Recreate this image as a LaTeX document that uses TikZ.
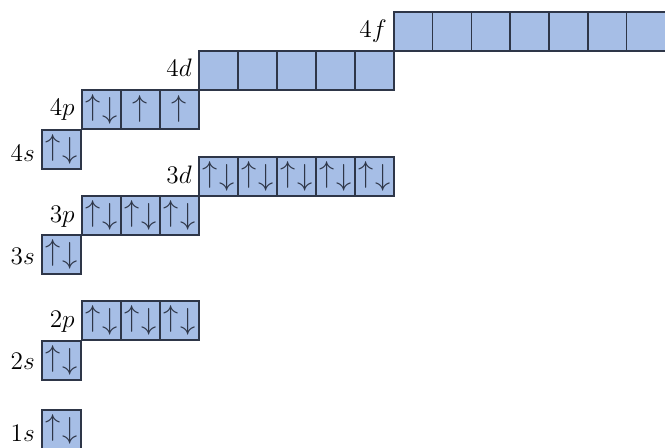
\documentclass[tikz,border=0pt]{standalone}
\usepackage{amsmath,amssymb}
\usepackage{xcolor}
\definecolor{orbfill}{HTML}{A6BEE6}
\definecolor{orbline}{HTML}{2E3648}
\usepackage{tikz}
\usetikzlibrary{positioning,calc}
\tikzset{
  orb/.style  ={draw=orbline,fill=orbfill,line width=0.9pt,inner sep=0pt,
                minimum width=0.78cm,minimum height=0.78cm,anchor=north west,
                font=\fontsize{18}{18}\selectfont,text=orbline},
  lbl/.style  ={font=\fontsize{15}{17}\selectfont,inner sep=0pt,anchor=base east},
}
\newcommand{\pair}{$\raisebox{1pt}{$\uparrow$}\mkern1mu\raisebox{-1pt}{$\downarrow$}$}
\newcommand{\up}{$\uparrow$}

\begin{document}
\begin{tikzpicture}[x=0.02cm,y=-0.02cm]
\useasboundingbox (0,0) rectangle (665,447);
% n = 1
\node[orb] (s1) at (41,409) {\pair};
% n = 2
\node[orb] (s2) at (41,340) {\pair};
\foreach \i in {1,2,3}
  \node[orb] (p2-\i) at ({81+39*(\i-1)},300) {\pair};
% n = 3
\node[orb] (s3) at (41,234) {\pair};
\foreach \i in {1,2,3}
  \node[orb] (p3-\i) at ({81+39*(\i-1)},195) {\pair};
\foreach \i in {1,...,5}
  \node[orb] (d3-\i) at ({198+39*(\i-1)},156) {\pair};
% n = 4
\node[orb] (s4) at (41,129) {\pair};
\node[orb] (p4-1) at (81,89) {\pair};
\node[orb] (p4-2) at (120,89) {\up};
\node[orb] (p4-3) at (159,89) {\up};
\foreach \i in {1,...,5}
  \node[orb] (d4-\i) at ({198+39*(\i-1)},50) {};
\foreach \i in {1,...,7}
  \node[orb] (f4-\i) at ({393+38.8*(\i-1)},11) {};
% labels
\node[lbl] (l1s) at ([xshift=-3.4pt,yshift=4.5pt]s1.south west) {$1s$};
\node[lbl] (l2s) at ([xshift=-3.4pt,yshift=6.5pt]s2.south west) {$2s$};
\node[lbl] (l2p) at ([xshift=-3.4pt,yshift=7.5pt]p2-1.south west) {$2p$};
\node[lbl] (l3s) at ([xshift=-3.4pt,yshift=5.5pt]s3.south west) {$3s$};
\node[lbl] (l3p) at ([xshift=-3.4pt,yshift=7.5pt]p3-1.south west) {$3p$};
\node[lbl] (l3d) at ([xshift=-3.4pt,yshift=7.5pt]d3-1.south west) {$3d$};
\node[lbl] (l4s) at ([xshift=-3.4pt,yshift=4.5pt]s4.south west) {$4s$};
\node[lbl] (l4p) at ([xshift=-3.4pt,yshift=8pt]p4-1.south west) {$4p$};
\node[lbl] (l4d) at ([xshift=-3.4pt,yshift=8pt]d4-1.south west) {$4d$};
\node[lbl] (l4f) at ([xshift=-3.4pt,yshift=8pt]f4-1.south west) {$4f$};
\end{tikzpicture}
\end{document}
